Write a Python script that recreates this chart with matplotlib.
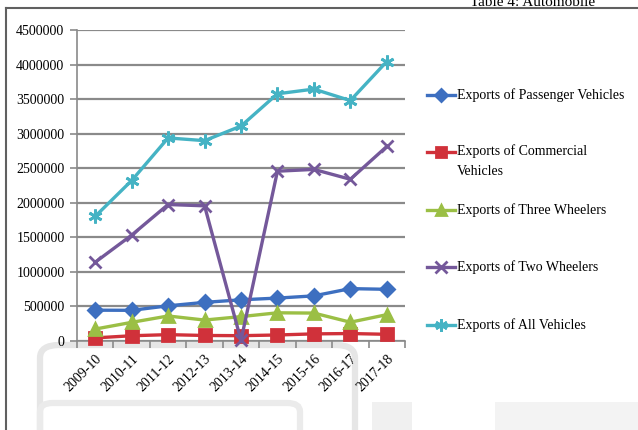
import matplotlib.pyplot as plt
from matplotlib.lines import Line2D
from matplotlib.patches import FancyBboxPatch, Rectangle

plt.rcParams['font.family'] = ['Liberation Serif', 'DejaVu Serif']

years = ['2009-10', '2010-11', '2011-12', '2012-13', '2013-14',
         '2014-15', '2015-16', '2016-17', '2017-18']

passenger = [446000, 444000, 509000, 559000, 596000, 621000, 653000, 758000, 748000]
commercial = [45000, 76000, 92000, 80000, 77000, 87000, 103000, 108000, 97000]
three_wheelers = [173000, 270000, 362000, 303000, 353000, 408000, 404000, 272000, 381000]
two_wheelers = [1140000, 1532000, 1975000, 1956000, 10000, 2457000, 2483000, 2340000, 2815000]
all_vehicles = [1804000, 2322000, 2938000, 2899000, 3110000, 3577000, 3645000, 3479000, 4044000]

series = [
    ('Exports of Passenger Vehicles', passenger, '#3d6fc0', 'D', 7),
    ('Exports of Commercial\nVehicles', commercial, '#d0313a', 's', 8),
    ('Exports of Three Wheelers', three_wheelers, '#9bbf45', '^', 8),
    ('Exports of Two Wheelers', two_wheelers, '#74589a', 'x', 9),
    ('Exports of All Vehicles', all_vehicles, '#45b3c4', (6, 2, 0), 10),
]

fig = plt.figure(figsize=(6.38, 4.30), dpi=100)
ax = fig.add_axes([77 / 638, 1 - 341 / 430, 328 / 638, 311 / 430])

x = list(range(len(years)))
for name, vals, col, mk, ms in series:
    ax.plot(x, vals, color=col, lw=2.4, marker=mk, ms=ms, mew=2,
            mec=col, mfc=col, zorder=3, clip_on=False)

ax.set_xlim(-0.5, len(years) - 0.5)
ax.set_ylim(0, 4500000)
ax.set_yticks(range(0, 4500001, 500000))
ax.set_yticklabels([str(v) for v in range(0, 4500001, 500000)], fontsize=10)
ax.yaxis.grid(True, color='#8a8a8a', lw=1.6)
ax.set_axisbelow(True)

# category labels on the centres, tick marks on the boundaries
ax.set_xticks(x)
ax.set_xticklabels(years, rotation=45, ha='right', rotation_mode='anchor', fontsize=10)
ax.tick_params(axis='x', length=0, pad=8)
ax.set_xticks([i - 0.5 for i in range(len(years) + 1)], minor=True)
ax.tick_params(axis='x', which='minor', length=5, color='#8a8a8a', width=1.2)
ax.tick_params(axis='y', length=5, color='#8a8a8a', width=1.2, pad=4)

for side in ['top', 'right']:
    ax.spines[side].set_visible(False)
for side in ['left', 'bottom']:
    ax.spines[side].set_color('#8a8a8a')
    ax.spines[side].set_linewidth(1.2)

# legend drawn on the right
legend_y = [95, 152, 210, 267, 325]
for (name, vals, col, mk, ms), ly in zip(series, legend_y):
    yf = 1 - ly / 430
    fig.add_artist(Line2D([427 / 638, 455 / 638], [yf, yf], color=col, lw=2.4,
                          transform=fig.transFigure))
    fig.add_artist(Line2D([441 / 638], [yf], color=col, marker=mk, ms=ms - 1, mew=2,
                          mec=col, mfc=col, transform=fig.transFigure))
    if '\n' in name:
        fig.text(457 / 638, yf + 8 / 430, name, fontsize=10, va='top', ha='left',
                 linespacing=1.75)
    else:
        fig.text(457 / 638, yf, name, fontsize=10, va='center', ha='left')

# page frame and caption above
fig.add_artist(Line2D([6 / 638, 6 / 638], [0, 1 - 8 / 430], color='#606060', lw=1.5))
fig.add_artist(Line2D([6 / 638, 1], [1 - 8 / 430, 1 - 8 / 430], color='#606060', lw=1.5))
fig.text(470 / 638, 1 - 6 / 430, 'Table 4: Automobile', fontsize=11, va='baseline', ha='left')

# faded outlines of the chart box below
fig.add_artist(FancyBboxPatch((40 / 638, -0.2), 315 / 638, 0.2 + 1 - 345 / 430,
                              boxstyle='round,pad=0,rounding_size=0.03',
                              fc='none', ec='#e6e6e6', lw=4.5, transform=fig.transFigure,
                              zorder=0))
fig.add_artist(FancyBboxPatch((40 / 638, -0.2), 260 / 638, 0.2 + 1 - 403 / 430,
                              boxstyle='round,pad=0,rounding_size=0.02',
                              fc='none', ec='#ebebeb', lw=4.5, transform=fig.transFigure,
                              zorder=0))
fig.add_artist(Rectangle((372 / 638, 0), 40 / 638, 28 / 430, fc='#f0f0f0', ec='none',
                         transform=fig.transFigure, zorder=0))
fig.add_artist(Rectangle((495 / 638, 0), 143 / 638, 28 / 430, fc='#f3f3f3', ec='none',
                         transform=fig.transFigure, zorder=0))

fig.savefig('out.png', dpi=100)
